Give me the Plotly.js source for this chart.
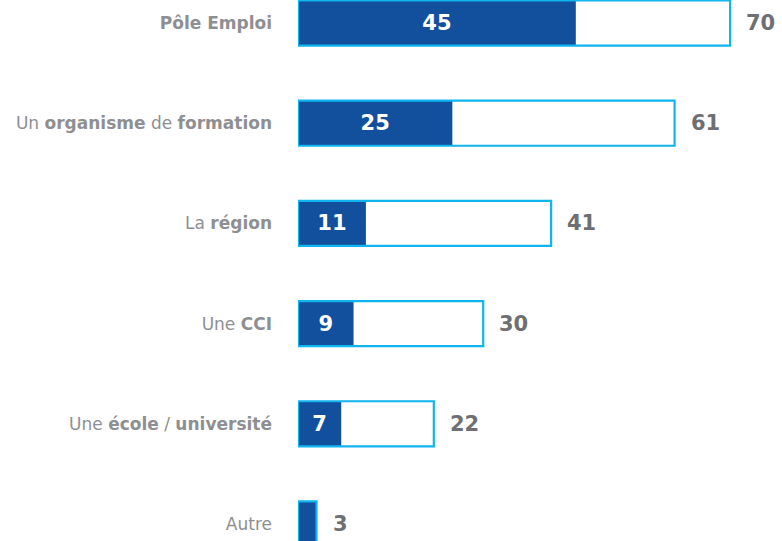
<!DOCTYPE html>
<html>
<head>
<meta charset="utf-8">
<script src="https://cdn.plot.ly/plotly-3.0.1.min.js"></script>
<style>html,body{margin:0;padding:0;background:#fff;}#chart{width:782px;height:541px;}</style>
</head>
<body>
<div id="chart"></div>
<script>
const categories = ["Pôle Emploi", "Un organisme de formation", "La région", "Une CCI", "Une école / université", "Autre"];
const tickLabels = ["<b>Pôle Emploi</b>", "Un <b>organisme</b> de <b>formation</b>", "La <b>région</b>", "Une <b>CCI</b>", "Une <b>école</b> / <b>université</b>", "Autre"];
const totalValues = [70, 61, 41, 30, 22, 3];
const innerValues = [45, 25, 11, 9, 7, 3];
const innerLabels = ["45", "25", "11", "9", "7", ""];

const darkBlue = "#124f9d";
const lightBlue = "#10b4ee";
const labelGrey = "#8e8f92";
const valueGrey = "#6e6f72";
const font = "DejaVu Sans, Verdana, sans-serif";

const traces = [
  {
    type: "bar", orientation: "h", y: categories, x: innerValues,
    width: 0.45, marker: {color: darkBlue, line: {width: 0}},
    text: innerLabels, textposition: "inside", insidetextanchor: "middle",
    textfont: {family: font, size: 21, color: "#ffffff", weight: "bold"},
    constraintext: "none", hoverinfo: "skip"
  },
  {
    type: "bar", orientation: "h", y: categories, x: totalValues,
    width: 0.45, marker: {color: "rgba(0,0,0,0)", line: {color: lightBlue, width: 2.2}},
    hoverinfo: "skip"
  }
];

const annotations = totalValues.map((v, i) => ({
  x: v, y: categories[i], xref: "x", yref: "y",
  text: "<b>" + v + "</b>", showarrow: false, xanchor: "left", yanchor: "middle",
  xshift: 14, font: {family: font, size: 21, color: valueGrey}
}));

const layout = {
  width: 782, height: 541,
  margin: {l: 298, r: 0, t: 0, b: 0},
  paper_bgcolor: "#ffffff", plot_bgcolor: "#ffffff",
  barmode: "overlay", showlegend: false,
  xaxis: {range: [0, 78.4], visible: false, showgrid: false, zeroline: false},
  yaxis: {
    type: "category", range: [5.17, -0.23],
    tickmode: "array", tickvals: categories, ticktext: tickLabels,
    showgrid: false, zeroline: false, showline: false, ticks: "",
    ticklabelstandoff: 25,
    tickfont: {family: font, size: 17, color: labelGrey}
  },
  annotations: annotations
};

Plotly.newPlot("chart", traces, layout, {staticPlot: true, displayModeBar: false});
</script>
</body>
</html>
